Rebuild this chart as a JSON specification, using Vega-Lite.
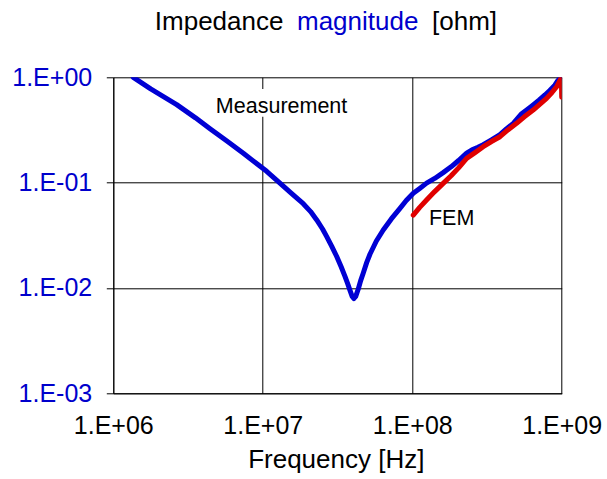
{
  "$schema": "https://vega.github.io/schema/vega-lite/v6.json",
  "width": 448.4,
  "height": 316,
  "autosize": {"type": "none"},
  "padding": {"left": 113.3, "top": 77.3, "right": 45.3, "bottom": 85.7},
  "background": "white",
  "config": {"view": {"stroke": null}, "font": "Liberation Sans"},
  "datasets": {
    "measurement": [
      {"i": 1, "f": 1.361e6, "z": 1.0},
      {"i": 2, "f": 1.778e6, "z": 0.776},
      {"i": 3, "f": 2.655e6, "z": 0.55},
      {"i": 4, "f": 3.548e6, "z": 0.412},
      {"i": 5, "f": 4.436e6, "z": 0.324},
      {"i": 6, "f": 5.754e6, "z": 0.248},
      {"i": 7, "f": 7.413e6, "z": 0.19},
      {"i": 8, "f": 8.913e6, "z": 0.155},
      {"i": 9, "f": 1.062e7, "z": 0.128},
      {"i": 10, "f": 1.303e7, "z": 0.0989},
      {"i": 11, "f": 1.549e7, "z": 0.0794},
      {"i": 12, "f": 1.866e7, "z": 0.0631},
      {"i": 13, "f": 2.089e7, "z": 0.0531},
      {"i": 14, "f": 2.296e7, "z": 0.0442},
      {"i": 15, "f": 2.512e7, "z": 0.0363},
      {"i": 16, "f": 2.673e7, "z": 0.0309},
      {"i": 17, "f": 2.884e7, "z": 0.0251},
      {"i": 18, "f": 3.119e7, "z": 0.02},
      {"i": 19, "f": 3.35e7, "z": 0.0158},
      {"i": 20, "f": 3.548e7, "z": 0.0129},
      {"i": 21, "f": 3.698e7, "z": 0.011},
      {"i": 22, "f": 3.828e7, "z": 0.00955},
      {"i": 23, "f": 3.963e7, "z": 0.00832},
      {"i": 24, "f": 4.074e7, "z": 0.00794},
      {"i": 25, "f": 4.188e7, "z": 0.00832},
      {"i": 26, "f": 4.355e7, "z": 0.00977},
      {"i": 27, "f": 4.519e7, "z": 0.01175},
      {"i": 28, "f": 4.699e7, "z": 0.0138},
      {"i": 29, "f": 4.955e7, "z": 0.0174},
      {"i": 30, "f": 5.212e7, "z": 0.0209},
      {"i": 31, "f": 5.754e7, "z": 0.0279},
      {"i": 32, "f": 6.397e7, "z": 0.0355},
      {"i": 33, "f": 7.244e7, "z": 0.0452},
      {"i": 34, "f": 8.279e7, "z": 0.0569},
      {"i": 35, "f": 9.12e7, "z": 0.0676},
      {"i": 36, "f": 1.016e8, "z": 0.0794},
      {"i": 37, "f": 1.122e8, "z": 0.0881},
      {"i": 38, "f": 1.247e8, "z": 0.0989},
      {"i": 39, "f": 1.413e8, "z": 0.1096},
      {"i": 40, "f": 1.611e8, "z": 0.1245},
      {"i": 41, "f": 1.82e8, "z": 0.1413},
      {"i": 42, "f": 2.042e8, "z": 0.1622},
      {"i": 43, "f": 2.312e8, "z": 0.1905},
      {"i": 44, "f": 2.512e8, "z": 0.2045},
      {"i": 45, "f": 2.754e8, "z": 0.2163},
      {"i": 46, "f": 2.985e8, "z": 0.2291},
      {"i": 47, "f": 3.388e8, "z": 0.2541},
      {"i": 48, "f": 3.864e8, "z": 0.2851},
      {"i": 49, "f": 4.266e8, "z": 0.3236},
      {"i": 50, "f": 4.742e8, "z": 0.3656},
      {"i": 51, "f": 5.395e8, "z": 0.4519},
      {"i": 52, "f": 5.888e8, "z": 0.4955},
      {"i": 53, "f": 6.442e8, "z": 0.547},
      {"i": 54, "f": 7.079e8, "z": 0.6095},
      {"i": 55, "f": 7.727e8, "z": 0.679},
      {"i": 56, "f": 8.318e8, "z": 0.75},
      {"i": 57, "f": 8.995e8, "z": 0.841},
      {"i": 58, "f": 9.441e8, "z": 0.933},
      {"i": 59, "f": 9.886e8, "z": 1.0}
    ],
    "fem": [
      {"i": 1, "f": 1.016e8, "z": 0.0492},
      {"i": 2, "f": 1.122e8, "z": 0.0582},
      {"i": 3, "f": 1.247e8, "z": 0.0684},
      {"i": 4, "f": 1.413e8, "z": 0.0822},
      {"i": 5, "f": 1.611e8, "z": 0.0984},
      {"i": 6, "f": 1.82e8, "z": 0.1161},
      {"i": 7, "f": 2.042e8, "z": 0.138},
      {"i": 8, "f": 2.312e8, "z": 0.1698},
      {"i": 9, "f": 2.63e8, "z": 0.1928},
      {"i": 10, "f": 2.985e8, "z": 0.2193},
      {"i": 11, "f": 3.388e8, "z": 0.2455},
      {"i": 12, "f": 3.864e8, "z": 0.2729},
      {"i": 13, "f": 4.365e8, "z": 0.3162},
      {"i": 14, "f": 4.989e8, "z": 0.3656},
      {"i": 15, "f": 5.623e8, "z": 0.4217},
      {"i": 16, "f": 6.442e8, "z": 0.4887},
      {"i": 17, "f": 7.161e8, "z": 0.5559},
      {"i": 18, "f": 7.925e8, "z": 0.631},
      {"i": 19, "f": 8.61e8, "z": 0.7161},
      {"i": 20, "f": 9.247e8, "z": 0.8147},
      {"i": 21, "f": 9.661e8, "z": 0.912},
      {"i": 22, "f": 9.954e8, "z": 1.0},
      {"i": 23, "f": 1.0e9, "z": 0.646}
    ]
  },
  "resolve": {"axis": {"x": "independent", "y": "independent"}},
  "layer": [
    {
      "description": "White box behind the Measurement label, hiding the gridline there",
      "data": {"values": [{}]},
      "mark": {"type": "rect", "fill": "white"},
      "encoding": {
        "x": {
          "datum": 4.6e6, "type": "quantitative",
          "scale": {"type": "log", "domain": [1e6, 1e9], "nice": false},
          "axis": {
            "orient": "top", "domain": false, "ticks": false, "labels": false, "grid": false,
            "title": "magnitude", "titleX": 183.2, "titleY": -47.8,
            "titleAlign": "left", "titleBaseline": "alphabetic",
            "titleFont": "Liberation Sans", "titleFontSize": 26, "titleFontWeight": "normal",
            "titleColor": "#0000CC"
          }
        },
        "x2": {"datum": 3.9e7},
        "y": {
          "datum": 0.773, "type": "quantitative",
          "scale": {"type": "log", "domain": [0.001, 1], "nice": false},
          "axis": null
        },
        "y2": {"datum": 0.423}
      }
    },
    {
      "data": {"name": "measurement"},
      "mark": {"type": "line", "color": "#0000D4", "strokeWidth": 5, "strokeJoin": "round", "strokeCap": "round", "clip": true},
      "encoding": {
        "x": {
          "field": "f", "type": "quantitative",
          "scale": {"type": "log", "domain": [1e6, 1e9], "nice": false},
          "axis": {
            "orient": "bottom", "values": [1e6, 1e7, 1e8, 1e9],
            "labelExpr": "'1.E' + (round(log(datum.value)/LN10) < 0 ? '-' : '+') + '0' + abs(round(log(datum.value)/LN10))",
            "grid": true, "gridColor": "#000000", "gridWidth": 1, "gridOpacity": 1,
            "domainColor": "#000000", "domainWidth": 1,
            "ticks": false, "tickSize": 0,
            "labelFont": "Liberation Sans", "labelFontSize": 25, "labelColor": "#000000",
            "labelPadding": 40, "labelBaseline": "alphabetic", "labelFlush": false, "labelOverlap": false,
            "title": "Frequency [Hz]", "titleX": 222.5, "titleY": 74,
            "titleAlign": "center", "titleBaseline": "alphabetic",
            "titleFont": "Liberation Sans", "titleFontSize": 26, "titleFontWeight": "normal", "titleColor": "#000000"
          }
        },
        "y": {
          "field": "z", "type": "quantitative",
          "scale": {"type": "log", "domain": [0.001, 1], "nice": false},
          "axis": {
            "orient": "left", "values": [0.001, 0.01, 0.1, 1],
            "labelExpr": "'1.E' + (round(log(datum.value)/LN10) < 0 ? '-' : '+') + '0' + abs(round(log(datum.value)/LN10))",
            "grid": true, "gridColor": "#000000", "gridWidth": 1, "gridOpacity": 1,
            "domainColor": "#000000", "domainWidth": 1,
            "ticks": true, "tickSize": 7, "tickColor": "#000000",
            "labelFont": "Liberation Sans", "labelFontSize": 25, "labelColor": "#0000CC",
            "labelPadding": 14.6, "labelBaseline": "middle", "labelFlush": false, "labelOverlap": false,
            "title": null
          }
        },
        "order": {"field": "i", "type": "quantitative"}
      }
    },
    {
      "data": {"name": "fem"},
      "mark": {"type": "line", "color": "#E00000", "strokeWidth": 5, "strokeJoin": "round", "strokeCap": "round", "clip": true},
      "encoding": {
        "x": {
          "field": "f", "type": "quantitative",
          "scale": {"type": "log", "domain": [1e6, 1e9], "nice": false},
          "axis": {
            "orient": "top", "domain": false, "ticks": false, "labels": false, "grid": false,
            "title": "[ohm]", "titleX": 318.2, "titleY": -47.8,
            "titleAlign": "left", "titleBaseline": "alphabetic",
            "titleFont": "Liberation Sans", "titleFontSize": 26, "titleFontWeight": "normal",
            "titleColor": "#000000"
          }
        },
        "y": {
          "field": "z", "type": "quantitative",
          "scale": {"type": "log", "domain": [0.001, 1], "nice": false},
          "axis": null
        },
        "order": {"field": "i", "type": "quantitative"}
      }
    },
    {
      "data": {"values": [{}]},
      "mark": {"type": "text", "text": "Measurement", "font": "Liberation Sans", "fontSize": 21.5, "color": "#000000", "align": "center", "baseline": "alphabetic"},
      "encoding": {
        "x": {
          "datum": 1.336e7, "type": "quantitative",
          "scale": {"type": "log", "domain": [1e6, 1e9], "nice": false},
          "axis": {
            "orient": "top", "domain": false, "ticks": false, "labels": false, "grid": false,
            "title": "Impedance", "titleX": 41, "titleY": -47.8,
            "titleAlign": "left", "titleBaseline": "alphabetic",
            "titleFont": "Liberation Sans", "titleFontSize": 26, "titleFontWeight": "normal",
            "titleColor": "#000000"
          }
        },
        "y": {
          "datum": 0.461, "type": "quantitative",
          "scale": {"type": "log", "domain": [0.001, 1], "nice": false},
          "axis": null
        }
      }
    },
    {
      "data": {"values": [{}]},
      "mark": {"type": "text", "text": "FEM", "font": "Liberation Sans", "fontSize": 21.5, "color": "#000000", "align": "center", "baseline": "alphabetic"},
      "encoding": {
        "x": {
          "datum": 1.836e8, "type": "quantitative",
          "scale": {"type": "log", "domain": [1e6, 1e9], "nice": false},
          "axis": null
        },
        "y": {
          "datum": 0.0396, "type": "quantitative",
          "scale": {"type": "log", "domain": [0.001, 1], "nice": false},
          "axis": null
        }
      }
    }
  ]
}
